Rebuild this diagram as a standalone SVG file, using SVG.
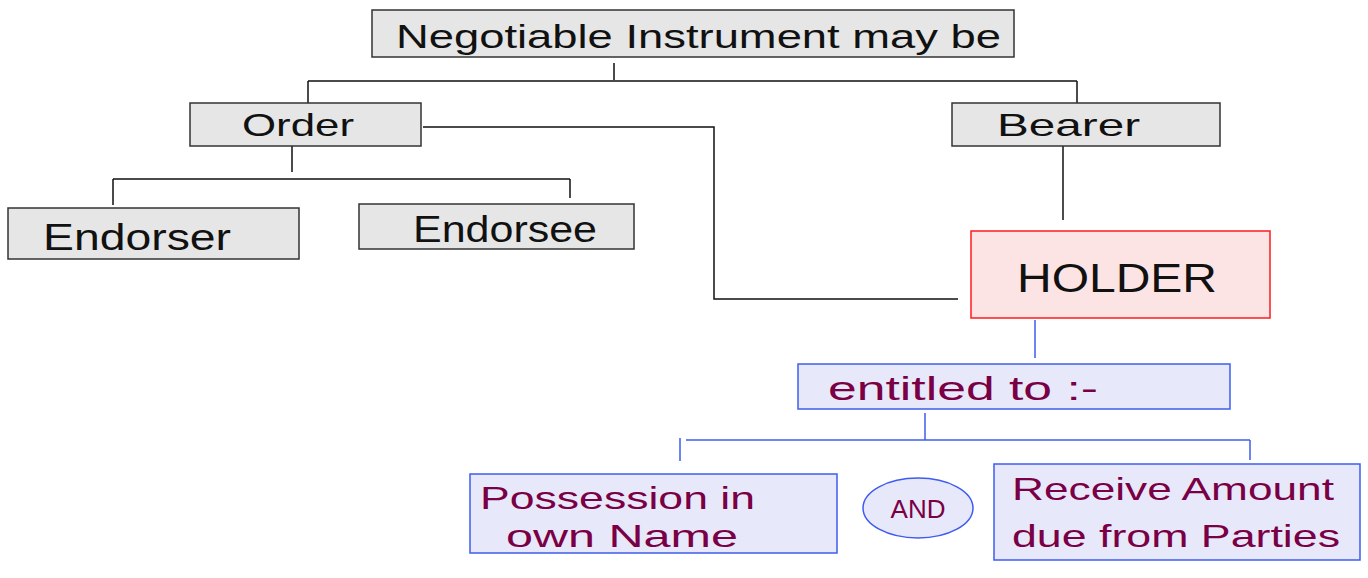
<svg xmlns="http://www.w3.org/2000/svg" width="1368" height="578" viewBox="0 0 1368 578">
<style>
.g{fill:#e6e6e6;stroke:#333;stroke-width:1.5}
.r{fill:#fde4e4;stroke:#ff1a1a;stroke-width:1.5}
.b{fill:#e8e8fb;stroke:#3e5cf0;stroke-width:1.5}
.k{fill:none;stroke:#111;stroke-width:1.5}
.bl{fill:none;stroke:#3e5cf0;stroke-width:1.5}
.t{font-family:"Liberation Sans",Arial,sans-serif;fill:#111}
.m{font-family:"Liberation Sans",Arial,sans-serif;fill:#7a0045}
</style>
<rect width="1368" height="578" fill="#fff"/>
<g id="connectors">
<path class="k" d="M614 63V80M308 81H1077M308 81V103M1077 81V103"/>
<path class="k" d="M423 127H714V299H958"/>
<path class="k" d="M292 146V172M113 179H570M113 179V205M570 179V198"/>
<path class="k" d="M1063 146V220"/>
<path class="bl" d="M1035 320V358M925 413V440M686 440H1250M680 438V461M1250 440V460"/>
</g>
<g id="n-root">
<rect class="g" x="372" y="10" width="642" height="47"/>
<text class="t" x="396" y="48" font-size="34" textLength="605" lengthAdjust="spacingAndGlyphs">Negotiable Instrument may be</text>
</g>
<g id="n-order">
<rect class="g" x="190" y="103" width="231" height="43"/>
<text class="t" x="242" y="136" font-size="32" textLength="112" lengthAdjust="spacingAndGlyphs">Order</text>
</g>
<g id="n-bearer">
<rect class="g" x="952" y="103" width="268" height="43"/>
<text class="t" x="997" y="136" font-size="32" textLength="143" lengthAdjust="spacingAndGlyphs">Bearer</text>
</g>
<g id="n-endorser">
<rect class="g" x="8" y="208" width="291" height="51"/>
<text class="t" x="43" y="250" font-size="36" textLength="188" lengthAdjust="spacingAndGlyphs">Endorser</text>
</g>
<g id="n-endorsee">
<rect class="g" x="359" y="204" width="275" height="45"/>
<text class="t" x="413" y="242" font-size="36" textLength="184" lengthAdjust="spacingAndGlyphs">Endorsee</text>
</g>
<g id="n-holder">
<rect class="r" x="971" y="231" width="299" height="87"/>
<text class="t" x="1017" y="292" font-size="40" textLength="200" lengthAdjust="spacingAndGlyphs">HOLDER</text>
</g>
<g id="n-entitled">
<rect class="b" x="798" y="364" width="432" height="45"/>
<text class="m" x="828" y="400" font-size="34" textLength="270" lengthAdjust="spacingAndGlyphs">entitled  to :-</text>
</g>
<g id="n-possession">
<rect class="b" x="470" y="474" width="367" height="79"/>
<text class="m" x="480" y="509" font-size="32" textLength="275" lengthAdjust="spacingAndGlyphs">Possession in</text>
<text class="m" x="506" y="547" font-size="32" textLength="232" lengthAdjust="spacingAndGlyphs">own  Name</text>
</g>
<g id="n-and">
<ellipse class="b" cx="918" cy="508" rx="55" ry="30"/>
<text class="m" x="918" y="518" font-size="26" text-anchor="middle">AND</text>
</g>
<g id="n-receive">
<rect class="b" x="994" y="464" width="366" height="96"/>
<text class="m" x="1012" y="500" font-size="32" textLength="322" lengthAdjust="spacingAndGlyphs">Receive Amount</text>
<text class="m" x="1012" y="547" font-size="32" textLength="328" lengthAdjust="spacingAndGlyphs">due from Parties</text>
</g>
</svg>
